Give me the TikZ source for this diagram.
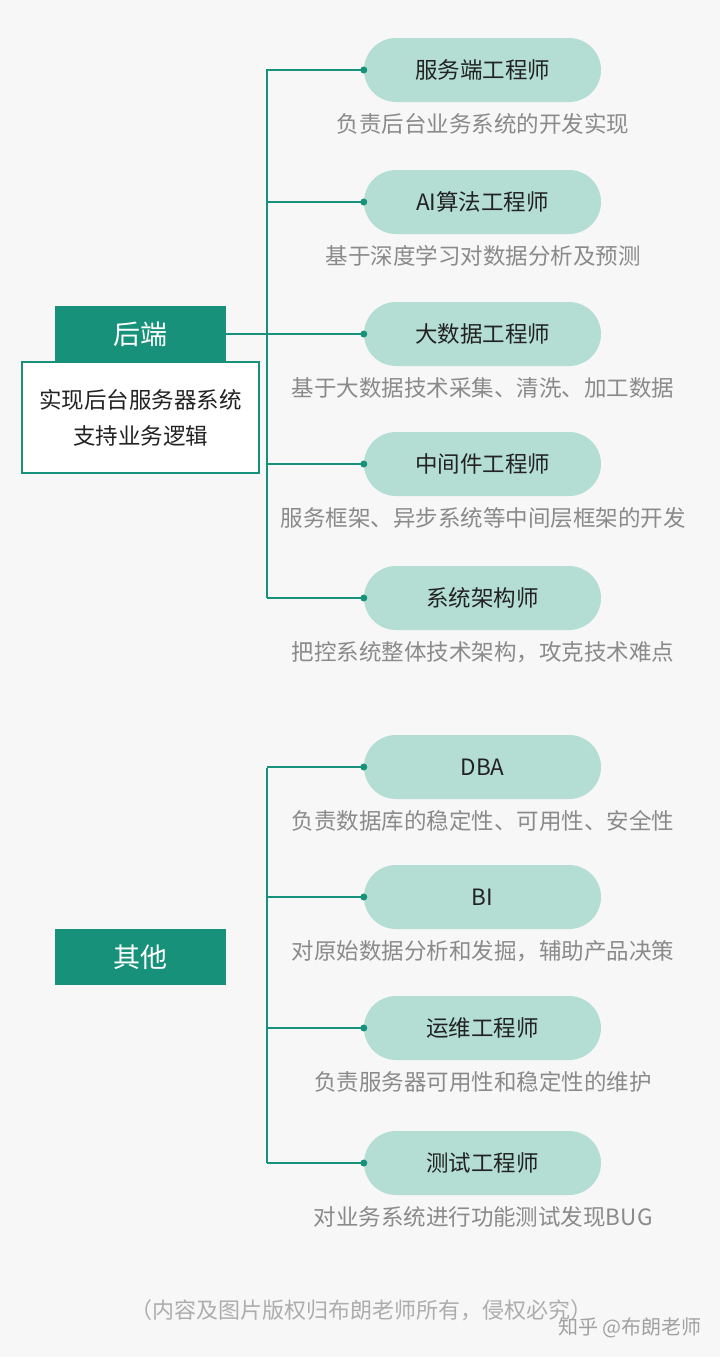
\documentclass[tikz,border=0pt]{standalone}
\usepackage{fontspec}
\setmainfont{Noto Sans CJK SC}
\definecolor{bg}{HTML}{F7F7F7}
\definecolor{teal}{HTML}{17917A}
\definecolor{pill}{HTML}{B4DED4}
\definecolor{desc}{HTML}{8A8A8A}
\definecolor{dark}{HTML}{222222}
\begin{document}
\begin{tikzpicture}[x=1pt,y=-1pt,
  pillbox/.style={draw=none,fill=pill,rounded corners=32pt,minimum width=237pt,minimum height=64pt,font=\fontsize{22.5}{26}\selectfont,text=dark,inner sep=0pt},
  descr/.style={font=\fontsize{22.5}{26}\selectfont,text=desc},
  head/.style={fill=teal,text=white,minimum width=171pt,minimum height=56pt,font=\fontsize{27}{30}\selectfont,inner sep=0pt},
  conn/.style={draw=teal,line width=1.3pt},
  dot/.style={circle,fill=teal,inner sep=0pt,minimum size=7pt}]
\fill[bg] (0,0) rectangle (720,1357);
\useasboundingbox (0,0) rectangle (720,1357);
% group 1
\node[head] (h1) at (140.5,334) {后端};
\node[draw=teal,line width=1.3pt,fill=white,minimum width=237pt,minimum height=111pt,align=center,font=\fontsize{22.5}{36}\selectfont,text=dark] (h1d) at (140.5,417.5) {实现后台服务器系统\\支持业务逻辑};
\coordinate (v1t) at (267,69);
\coordinate (v1b) at (267,598);
\draw[conn] (v1t) -- (v1b);
\draw[conn] (h1.east) -- (267,334);
\foreach \n/\y/\t/\d in {a/70/服务端工程师/负责后台业务系统的开发实现,
  b/202/AI算法工程师/基于深度学习对数据分析及预测,
  c/334/大数据工程师/基于大数据技术采集、清洗、加工数据,
  d/464/中间件工程师/服务框架、异步系统等中间层框架的开发,
  e/598/系统架构师/{把控系统整体技术架构，攻克技术难点}}{
  \node[pillbox] (p\n) at (482.5,\y) {\t};
  \node[descr] (d\n) at (483,\y+54) {\d};
  \coordinate (j\n) at (267,\y);
  \draw[conn] (j\n) -- (p\n.west);
  \node[dot] at (p\n.west) {};
}
% group 2
\node[head] (h2) at (140.5,957) {其他};
\draw[conn] (267,768) -- (267,1163);
\foreach \n/\y/\t/\d in {f/767/DBA/负责数据库的稳定性、可用性、安全性,
  g/897/BI/{对原始数据分析和发掘，辅助产品决策},
  h/1028/运维工程师/负责服务器可用性和稳定性的维护,
  i/1163/测试工程师/对业务系统进行功能测试发现BUG}{
  \node[pillbox] (p\n) at (482.5,\y) {\t};
  \node[descr] (d\n) at (483,\y+54) {\d};
  \coordinate (j\n) at (267,\y);
  \draw[conn] (j\n) -- (p\n.west);
  \node[dot] at (p\n.west) {};
}
\node[font=\fontsize{22}{26}\selectfont,text=desc!70] (foot) at (361,1310) {（内容及图片版权归布朗老师所有，侵权必究）};
\node[font=\fontsize{20}{24}\selectfont,text=desc!80,anchor=east] (wm) at (705,1328) {知乎 @布朗老师};
\end{tikzpicture}
\end{document}
